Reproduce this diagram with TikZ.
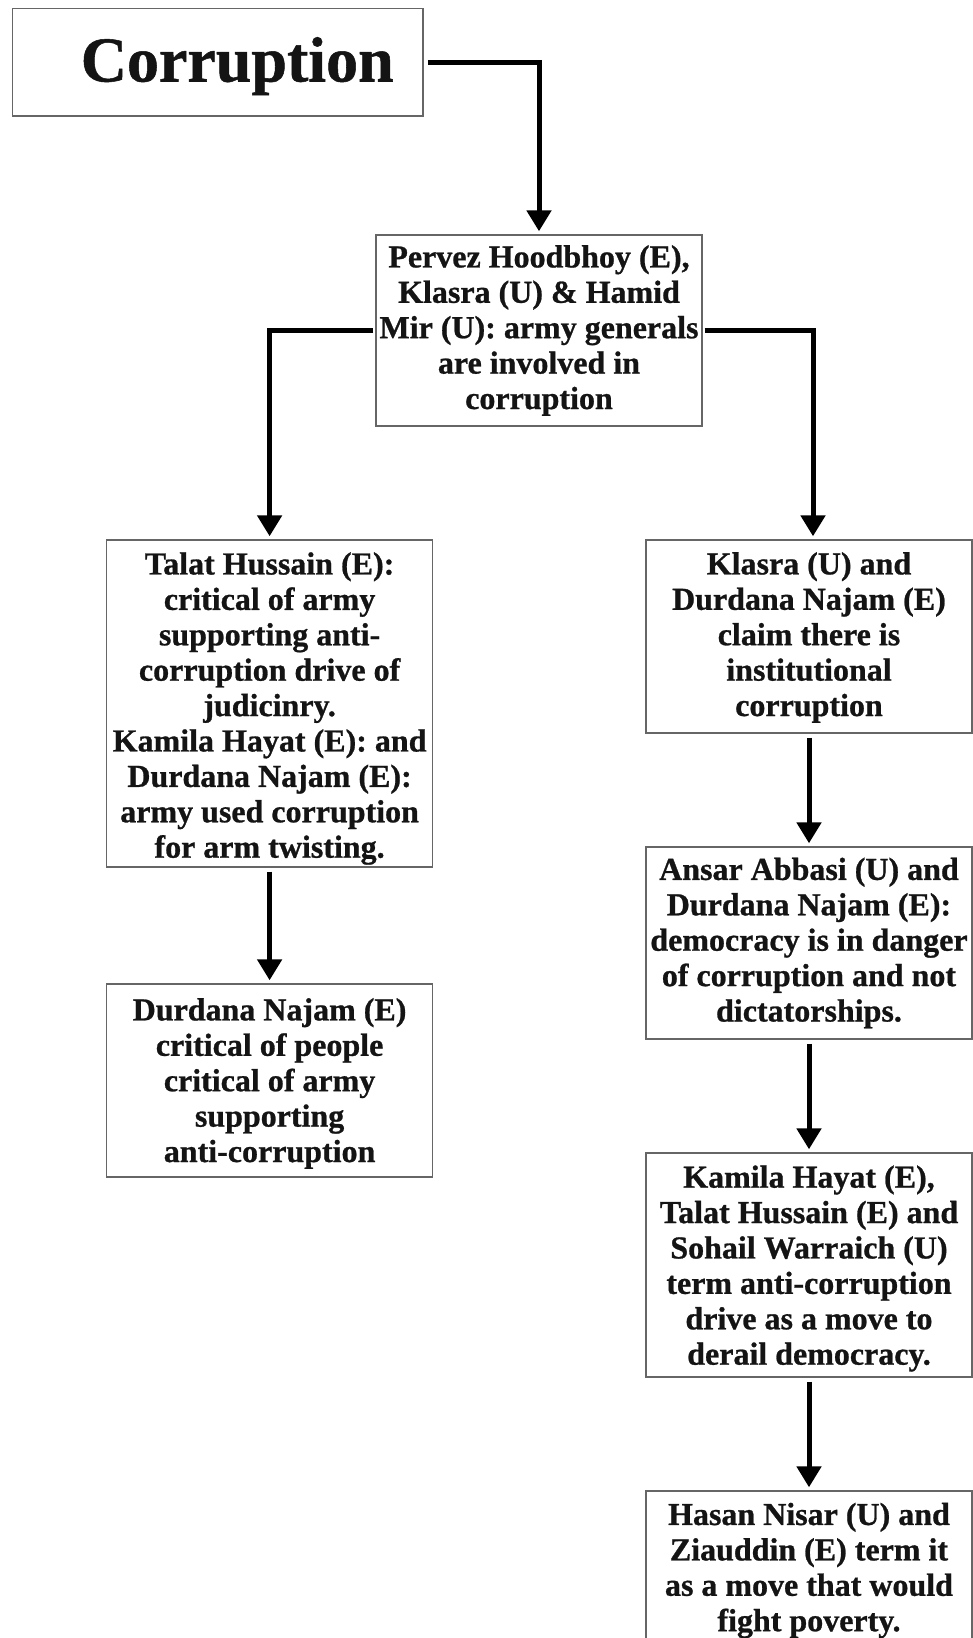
\documentclass[tikz,border=0pt]{standalone}
\usepackage{fontspec}
\setmainfont{Liberation Serif}[BoldFeatures={FakeBold=0.8}]
\usetikzlibrary{arrows.meta}

% centred lines in a box-wide paragraph; #1 is extra space kept above them
\newcommand\boxlines[2]{\parbox{163pt}{\centering\vspace*{#1}#2}}

\begin{document}
\begin{tikzpicture}[x=0.5pt,y=-0.5pt,
  box/.style={draw=black!60, line width=0.7pt, minimum width=163pt, inner sep=0pt,
    font=\bfseries\fontsize{16}{17.7}\selectfont, text=black!92},
  flow/.style={line width=2.5pt, -{Triangle[width=12pt,length=10.5pt]},
    shorten >=1.5pt, shorten <=2pt}]
\useasboundingbox (0,0) rectangle (973,1638);
\clip (0,0) rectangle (973,1638);

% title box
\node[draw=black!60, line width=0.7pt, minimum width=205.25pt, minimum height=53.8pt,
  inner sep=0pt, text height=24pt, text depth=4.7pt, text=black!92,
  font=\bfseries\fontsize{32}{38}\selectfont] (corr) at (217.75,62.2)
  {\hspace*{19.5pt}Corruption};

% first level
\node[box, minimum height=95.5pt] (p) at (539,330.5)
  {\boxlines{0pt}{Pervez Hoodbhoy (E),\\Klasra (U) \& Hamid\\Mir (U): army generals\\are involved in\\corruption}};

% left column
\node[box, minimum height=163.5pt] (t) at (269.6,703.5)
  {\boxlines{5pt}{Talat Hussain (E):\\critical of army\\supporting anti-\\corruption drive of\\judicinry.\\Kamila Hayat (E): and\\Durdana Najam (E):\\army used corruption\\for arm twisting.}};
\node[box, minimum height=96.5pt] (d) at (269.6,1080.5)
  {\boxlines{3pt}{Durdana Najam (E)\\critical of people\\critical of army\\supporting\\anti-corruption}};

% right column
\node[box, minimum height=96.5pt] (k) at (809,636.5)
  {\boxlines{1pt}{Klasra (U) and\\Durdana Najam (E)\\claim there is\\institutional\\corruption}};
\node[box, minimum height=96pt] (a) at (809,943)
  {\boxlines{0pt}{Ansar Abbasi (U) and\\Durdana Najam (E):\\democracy is in danger\\of corruption and not\\dictatorships.}};
\node[box, minimum height=112pt] (m) at (809,1265)
  {\boxlines{3.5pt}{Kamila Hayat (E),\\Talat Hussain (E) and\\Sohail Warraich (U)\\term anti-corruption\\drive as a move to\\derail democracy.}};
\node[box, minimum height=78.5pt] (h) at (809,1569.5)
  {\boxlines{1pt}{Hasan Nisar (U) and\\Ziauddin (E) term it\\as a move that would\\fight poverty.}};

% connectors
\draw[flow] (corr.east) -| (p.north);
\draw[flow, shorten <=1pt] (p.west) -| (t.north);
\draw[flow, shorten <=1pt] (p.east) -| ([xshift=2pt]k.north);
\draw[flow] (t.south) -- (d.north);
\draw[flow] (k.south) -- (a.north);
\draw[flow] (a.south) -- (m.north);
\draw[flow] (m.south) -- (h.north);
\end{tikzpicture}
\end{document}
